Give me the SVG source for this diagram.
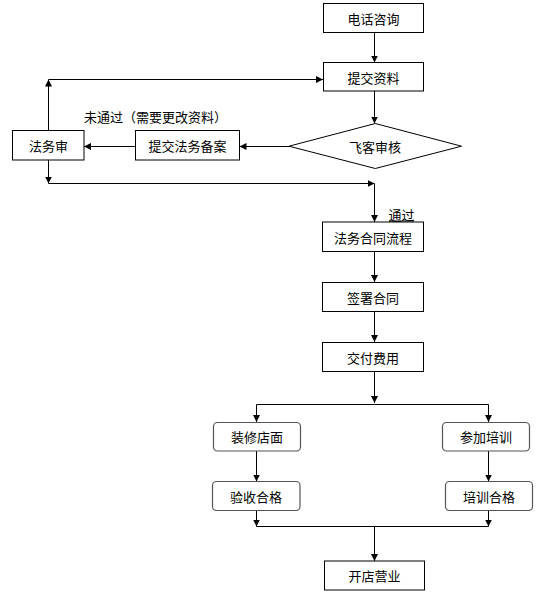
<svg xmlns="http://www.w3.org/2000/svg" width="536" height="593" viewBox="0 0 536 593">
<style>
.box{fill:#fff;stroke:#000;stroke-width:1}
.rbox{fill:#fff;stroke:#555;stroke-width:1.2}
.t{font-family:"Noto Sans CJK SC","Liberation Sans",sans-serif;font-size:13px;fill:#000;text-anchor:middle;dominant-baseline:central}
.c{fill:none;stroke:#000;stroke-width:1}
</style>
<defs>
<marker id="ah" viewBox="0 0 7 7" refX="7" refY="3.5" markerWidth="7" markerHeight="7" markerUnits="userSpaceOnUse" orient="auto">
<path d="M0,0 L7,3.5 L0,7 z" fill="#000"/>
</marker>
</defs>
<g id="connectors">
<path class="c" d="M374.5,32.5 V62.5" marker-end="url(#ah)"/>
<path class="c" d="M374.5,91 V123.5" marker-end="url(#ah)"/>
<path class="c" d="M289,146.5 H239.5" marker-end="url(#ah)"/>
<path class="c" d="M135.5,146.5 H84" marker-end="url(#ah)"/>
<path class="c" d="M48.5,130.5 V79.5" marker-end="url(#ah)"/>
<path class="c" d="M48.5,79.5 H323" marker-end="url(#ah)"/>
<path class="c" d="M48.5,160 V183.5" marker-end="url(#ah)"/>
<path class="c" d="M48.5,183.5 H374.5" marker-end="url(#ah)"/>
<path class="c" d="M374.5,183.5 V222" marker-end="url(#ah)"/>
<path class="c" d="M374.5,251.5 V282" marker-end="url(#ah)"/>
<path class="c" d="M374.5,311.5 V342" marker-end="url(#ah)"/>
<path class="c" d="M374.5,371.5 V403" marker-end="url(#ah)"/>
<path class="c" d="M256.5,404.5 H488.5"/>
<path class="c" d="M256.5,404.5 V422" marker-end="url(#ah)"/>
<path class="c" d="M488.5,404.5 V422" marker-end="url(#ah)"/>
<path class="c" d="M256.5,451 V481.5" marker-end="url(#ah)"/>
<path class="c" d="M488.5,451 V481.5" marker-end="url(#ah)"/>
<path class="c" d="M256.5,510.5 V526.5" marker-end="url(#ah)"/>
<path class="c" d="M488.5,510.5 V526.5" marker-end="url(#ah)"/>
<path class="c" d="M256.5,526.5 H488.5"/>
<path class="c" d="M374.5,526.5 V561" marker-end="url(#ah)"/>
<line x1="389" y1="221" x2="414" y2="221" stroke="#000" stroke-width="1"/>
</g>
<g id="n1"><rect class="box" x="323.5" y="3.5" width="100" height="29"/><text class="t" x="373.5" y="18">电话咨询</text></g>
<g id="n2"><rect class="box" x="323.5" y="62.5" width="100" height="28.5"/><text class="t" x="373.5" y="77">提交资料</text></g>
<g id="n3"><polygon class="box" points="375.3,123.5 461.5,146.2 375.3,168.5 289,146.2"/><text class="t" x="375" y="146.5">飞客审核</text></g>
<g id="n4"><rect class="box" x="135.5" y="130.5" width="104" height="29.5"/><text class="t" x="187.5" y="145.5">提交法务备案</text></g>
<g id="n5"><rect class="box" x="12.5" y="130.5" width="71.5" height="29.5"/><text class="t" x="48.5" y="145.5">法务审</text></g>
<g id="l1"><text class="t" x="155.5" y="116.5">未通过（需要更改资料）</text></g>
<g id="l2"><text class="t" x="401.5" y="214.5">通过</text></g>
<g id="n6"><rect class="box" x="322.5" y="222" width="101" height="29.5"/><text class="t" x="373" y="237">法务合同流程</text></g>
<g id="n7"><rect class="box" x="322.5" y="282.5" width="101" height="29"/><text class="t" x="373" y="297">签署合同</text></g>
<g id="n8"><rect class="box" x="322.5" y="342.5" width="101" height="29"/><text class="t" x="373" y="357">交付费用</text></g>
<g id="n9"><rect class="rbox" x="213.5" y="422.5" width="87" height="28.5" rx="4"/><text class="t" x="257" y="436.5">装修店面</text></g>
<g id="n10"><rect class="rbox" x="442.5" y="422.5" width="87" height="28.5" rx="4"/><text class="t" x="486" y="436.5">参加培训</text></g>
<g id="n11"><rect class="rbox" x="212.5" y="481.5" width="87.5" height="29" rx="4"/><text class="t" x="256" y="496">验收合格</text></g>
<g id="n12"><rect class="rbox" x="445.5" y="481.5" width="87" height="29" rx="4"/><text class="t" x="489" y="496">培训合格</text></g>
<g id="n13"><rect class="box" x="324.5" y="561" width="100" height="29"/><text class="t" x="374.5" y="575.5">开店营业</text></g>
</svg>
